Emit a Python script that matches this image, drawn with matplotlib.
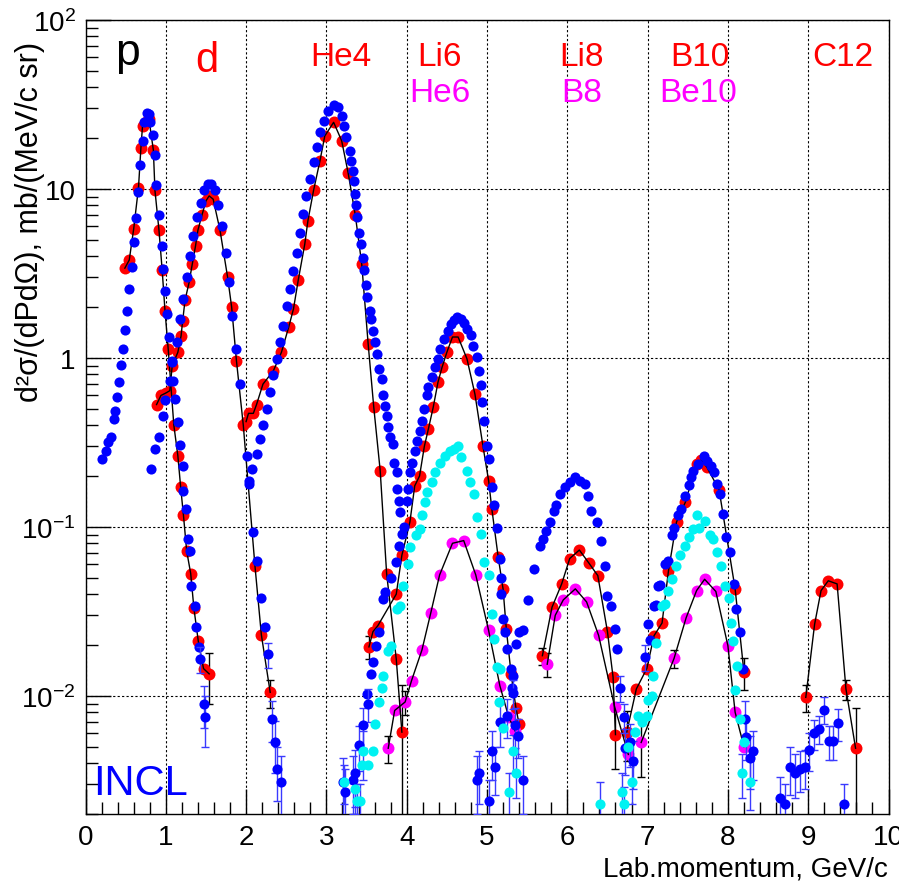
import numpy as np
import matplotlib.pyplot as plt
from matplotlib.ticker import MultipleLocator, FixedLocator, FixedFormatter, LogLocator, NullFormatter

plt.rcParams['font.family'] = ['Liberation Sans', 'DejaVu Sans']
plt.rcParams['mathtext.fontset'] = 'custom'
plt.rcParams['mathtext.rm'] = 'Liberation Sans'
plt.rcParams['mathtext.it'] = 'Liberation Sans:italic'
plt.rcParams['mathtext.bf'] = 'Liberation Sans:bold'

# ---- measured points (momentum GeV/c, cross section) ----
red_p = [(0.49, 3.4), (0.545, 3.8), (0.60, 5.8), (0.66, 10.2), (0.69, 17.5), (0.71, 23.5),
         (0.75, 25.0), (0.79, 26.0), (0.845, 17.0), (0.865, 9.8), (0.915, 5.7), (0.955, 3.3),
         (0.99, 1.9), (1.03, 1.13), (1.10, 0.40), (1.15, 0.264), (1.185, 0.172), (1.22, 0.117),
         (1.26, 0.072), (1.31, 0.053), (1.35, 0.033), (1.405, 0.021), (1.47, 0.0145), (1.54, 0.0135)]
red_d = [(0.885, 0.53), (0.94, 0.60), (1.00, 0.62), (1.05, 0.64), (1.08, 0.90), (1.15, 1.08),
         (1.19, 1.35), (1.21, 1.66), (1.24, 2.2), (1.29, 2.8), (1.33, 3.6), (1.37, 4.6),
         (1.40, 5.7), (1.45, 7.0), (1.50, 8.5), (1.54, 9.1), (1.59, 8.7), (1.675, 5.7),
         (1.77, 3.0), (1.82, 2.0), (1.88, 0.96), (1.965, 0.40), (2.11, 0.059), (2.19, 0.023),
         (2.30, 0.0105)]
red_he4 = [(2.00, 0.42), (2.03, 0.47), (2.09, 0.47), (2.13, 0.53), (2.21, 0.70), (2.34, 0.84),
           (2.44, 1.08), (2.53, 1.52), (2.59, 1.95), (2.65, 2.9), (2.73, 4.7), (2.77, 6.5),
           (2.84, 9.8), (2.92, 14.7), (2.98, 20.6), (3.09, 24.8), (3.19, 19.3), (3.27, 12.5),
           (3.36, 7.0), (3.44, 3.6), (3.52, 1.21), (3.59, 0.51), (3.67, 0.215), (3.75, 0.053),
           (3.87, 0.0165), (3.94, 0.0061)]
red_li6 = [(3.53, 0.0195), (3.58, 0.024), (3.64, 0.026), (3.87, 0.040), (3.94, 0.068),
           (4.04, 0.107), (4.10, 0.175), (4.16, 0.20), (4.22, 0.30), (4.27, 0.38), (4.33, 0.51),
           (4.39, 0.72), (4.44, 0.88), (4.50, 1.08), (4.57, 1.33), (4.64, 1.33), (4.75, 0.99),
           (4.85, 0.61), (4.95, 0.30), (5.02, 0.188), (5.06, 0.128), (5.14, 0.066), (5.20, 0.043),
           (5.24, 0.025), (5.30, 0.0135), (5.36, 0.0085), (5.40, 0.0068)]
red_li8 = [(5.69, 0.0173), (5.81, 0.0335), (5.93, 0.046), (6.03, 0.065), (6.15, 0.073),
           (6.27, 0.061), (6.38, 0.0515), (6.50, 0.024), (6.57, 0.0129), (6.60, 0.0059)]
red_b10 = [(6.74, 0.0061), (6.86, 0.011), (6.99, 0.0145), (7.08, 0.0227), (7.18, 0.027),
           (7.26, 0.055), (7.36, 0.107), (7.47, 0.14), (7.61, 0.236), (7.67, 0.25), (7.74, 0.225),
           (7.89, 0.166), (8.09, 0.043), (8.20, 0.0138)]
red_c12 = [(8.97, 0.0098), (9.08, 0.0266), (9.16, 0.042), (9.25, 0.048), (9.36, 0.046),
           (9.47, 0.011), (9.59, 0.0049)]
red_err = [(1.54, 0.0135, 0.0045), (2.30, 0.0105, 0.002), (3.53, 0.0195, 0.003),
           (3.94, 0.0061, 0.0055), (5.69, 0.0173, 0.002), (6.60, 0.0059, 0.0022),
           (6.74, 0.0061, 0.002), (8.20, 0.0138, 0.003), (8.97, 0.0098, 0.0018),
           (9.47, 0.011, 0.0015), (9.59, 0.0049, 0.0036)]

mag_he6 = [(3.77, 0.0049), (3.85, 0.0082), (3.98, 0.0092), (4.06, 0.0123), (4.19, 0.0187),
           (4.30, 0.031), (4.41, 0.052), (4.57, 0.080), (4.71, 0.083), (4.86, 0.052),
           (5.02, 0.0244), (5.16, 0.0115), (5.27, 0.0075), (5.35, 0.0062)]
mag_b8 = [(5.75, 0.0154), (5.85, 0.030), (5.95, 0.037), (6.10, 0.043), (6.24, 0.036),
          (6.39, 0.0228), (6.59, 0.0086), (6.76, 0.0045)]
mag_be10 = [(6.92, 0.0053), (7.33, 0.0167), (7.48, 0.029), (7.61, 0.042), (7.71, 0.049),
            (7.85, 0.0415), (8.00, 0.0198), (8.09, 0.0080), (8.20, 0.0050)]
mag_err = [(3.77, 0.0049, 0.0009), (3.98, 0.0092, 0.0015), (5.75, 0.0154, 0.0025),
           (6.92, 0.0053, 0.002), (7.33, 0.0167, 0.002)]

# ---- INCL ----
blue_p = [(0.21, 0.253), (0.25, 0.283), (0.28, 0.317), (0.32, 0.34), (0.35, 0.436), (0.37, 0.488),
          (0.39, 0.585), (0.42, 0.717), (0.44, 0.91), (0.47, 1.13), (0.49, 1.46), (0.52, 1.9),
          (0.54, 2.56), (0.575, 3.44), (0.60, 4.83), (0.625, 6.7), (0.65, 9.6), (0.68, 13.9),
          (0.71, 19.3), (0.73, 24.8), (0.76, 28.1), (0.79, 27.8), (0.80, 24.8), (0.84, 20.8),
          (0.86, 15.9), (0.88, 10.6), (0.915, 7.0), (0.95, 4.6), (0.965, 3.36), (0.99, 2.5),
          (1.01, 1.82), (1.04, 1.33), (1.08, 0.96), (1.09, 0.73), (1.12, 0.57), (1.15, 0.416),
          (1.18, 0.305), (1.21, 0.23), (1.22, 0.164), (1.25, 0.128), (1.28, 0.085), (1.30, 0.072),
          (1.32, 0.045), (1.36, 0.034), (1.38, 0.0254), (1.41, 0.0195)]
blue_d = [(0.82, 0.22), (0.865, 0.29), (0.915, 0.34), (0.96, 0.456), (0.99, 0.56), (1.05, 0.73),
          (1.08, 0.94), (1.135, 1.24), (1.18, 1.70), (1.22, 2.23), (1.26, 3.0), (1.30, 4.03),
          (1.34, 5.3), (1.385, 6.8), (1.44, 8.3), (1.48, 9.8), (1.52, 10.7), (1.56, 10.7),
          (1.61, 9.8), (1.65, 8.0), (1.70, 6.07), (1.75, 4.2), (1.79, 2.83), (1.83, 1.78),
          (1.88, 1.13), (1.92, 0.70), (2.01, 0.264), (2.04, 0.18), (2.09, 0.093), (2.14, 0.063),
          (2.19, 0.038), (2.23, 0.0254)]
blue_he4 = [(2.03, 0.188), (2.07, 0.22), (2.13, 0.27), (2.17, 0.33), (2.21, 0.40), (2.26, 0.50),
            (2.30, 0.63), (2.34, 0.79), (2.38, 0.99), (2.42, 1.24), (2.46, 1.55), (2.51, 2.04),
            (2.55, 2.56), (2.59, 3.28), (2.63, 4.2), (2.67, 5.5), (2.71, 7.1), (2.75, 9.1),
            (2.80, 11.4), (2.84, 14.4), (2.88, 17.7), (2.92, 21.7), (2.97, 25.4), (3.02, 29.1),
            (3.09, 31.4), (3.15, 30.5), (3.19, 27.1), (3.22, 23.6), (3.25, 20.2), (3.29, 16.8),
            (3.31, 14.7), (3.33, 12.8), (3.34, 11.2), (3.36, 9.3), (3.37, 8.0), (3.385, 6.8),
            (3.41, 5.5), (3.43, 4.7), (3.45, 3.9), (3.47, 3.3), (3.49, 2.7), (3.51, 2.3),
            (3.54, 1.9), (3.56, 1.7), (3.58, 1.45), (3.60, 1.24), (3.63, 1.06), (3.66, 0.86),
            (3.69, 0.75), (3.71, 0.60), (3.73, 0.52), (3.75, 0.456), (3.77, 0.39), (3.79, 0.34),
            (3.83, 0.31), (3.84, 0.24), (3.875, 0.21), (3.88, 0.168), (3.91, 0.143), (3.92, 0.122)]
blue_li6 = [(3.50, 0.0103), (3.56, 0.0135), (3.58, 0.0159), (3.62, 0.0198), (3.65, 0.0238),
            (3.70, 0.0375), (3.73, 0.041), (3.81, 0.050), (3.87, 0.062), (3.90, 0.077),
            (3.94, 0.091), (3.97, 0.10), (4.00, 0.143), (4.02, 0.168), (4.04, 0.21), (4.07, 0.24),
            (4.10, 0.283), (4.13, 0.324), (4.17, 0.37), (4.19, 0.425), (4.22, 0.50), (4.25, 0.60),
            (4.27, 0.67), (4.31, 0.77), (4.35, 0.88), (4.39, 0.99), (4.42, 1.13), (4.46, 1.30),
            (4.51, 1.45), (4.55, 1.59), (4.59, 1.68), (4.63, 1.74), (4.67, 1.70), (4.71, 1.61),
            (4.75, 1.48), (4.80, 1.36), (4.83, 1.18), (4.87, 1.01), (4.90, 0.84), (4.92, 0.69),
            (4.94, 0.546), (4.96, 0.425), (5.00, 0.30), (5.03, 0.253), (5.06, 0.172), (5.09, 0.134),
            (5.12, 0.099), (5.16, 0.065), (5.18, 0.050), (5.18, 0.040), (5.20, 0.0285),
            (5.22, 0.0238), (5.25, 0.0189), (5.30, 0.0145), (5.31, 0.0112)]
blue_li8 = [(5.33, 0.0132), (5.36, 0.0204), (5.40, 0.0238), (5.45, 0.0244), (5.51, 0.037),
            (5.58, 0.056), (5.66, 0.077), (5.70, 0.085), (5.74, 0.095), (5.79, 0.107),
            (5.83, 0.125), (5.86, 0.134), (5.91, 0.157), (5.97, 0.172), (6.03, 0.184),
            (6.10, 0.197), (6.16, 0.188), (6.22, 0.18), (6.26, 0.153), (6.30, 0.125),
            (6.37, 0.107), (6.42, 0.083), (6.47, 0.059), (6.50, 0.039), (6.55, 0.034),
            (6.59, 0.0249), (6.62, 0.0189)]
blue_b10 = [(7.01, 0.0266), (7.03, 0.0213), (7.08, 0.034), (7.10, 0.0345), (7.13, 0.045),
            (7.15, 0.0455), (7.22, 0.060), (7.26, 0.063), (7.30, 0.089), (7.33, 0.099),
            (7.38, 0.117), (7.42, 0.128), (7.47, 0.153), (7.51, 0.176), (7.54, 0.197),
            (7.57, 0.215), (7.63, 0.236), (7.70, 0.264), (7.74, 0.247), (7.79, 0.23),
            (7.83, 0.21), (7.87, 0.18), (7.90, 0.157), (7.94, 0.12), (7.98, 0.087),
            (8.03, 0.071), (8.07, 0.046), (8.10, 0.0326), (8.15, 0.024), (8.19, 0.0145)]
blue_err = [(1.43, 0.0166, 0.003), (1.47, 0.009, 0.0025), (1.49, 0.0075, 0.0025),
            (2.27, 0.0177, 0.003), (2.32, 0.0073, 0.002), (2.36, 0.0053, 0.0018),
            (2.39, 0.0037, 0.0013), (2.43, 0.0031, 0.0013),
            (3.21, 0.0031, 0.0012), (3.23, 0.0027, 0.001), (3.33, 0.0032, 0.0012),
            (3.36, 0.0035, 0.0013), (3.41, 0.0051, 0.0015), (3.46, 0.0067, 0.0018),
            (3.52, 0.0090, 0.002),
            (4.87, 0.0032, 0.0012), (4.90, 0.0035, 0.0012), (5.03, 0.0024, 0.0008),
            (5.06, 0.0047, 0.0015), (5.10, 0.0038, 0.0012), (5.16, 0.0070, 0.002),
            (5.25, 0.0076, 0.002), (5.33, 0.0104, 0.002), (5.35, 0.0067, 0.0018),
            (5.38, 0.0058, 0.0015), (5.45, 0.0032, 0.0012),
            (6.66, 0.0112, 0.002), (6.70, 0.0075, 0.0015), (6.72, 0.0049, 0.0015),
            (6.78, 0.0053, 0.0015), (6.82, 0.0041, 0.0013), (6.97, 0.017, 0.003),
            (8.21, 0.0073, 0.002), (8.23, 0.0057, 0.0015), (8.28, 0.0043, 0.0015),
            (8.31, 0.0047, 0.0015)]
blue_c12 = [(8.65, 0.0025, 0.0008), (8.71, 0.0023, 0.0007), (8.77, 0.0038, 0.0012),
            (8.84, 0.0035, 0.001), (8.90, 0.0037, 0.001), (8.96, 0.0038, 0.001),
            (9.01, 0.0048, 0.0012), (9.07, 0.0060, 0.0012), (9.13, 0.0064, 0.0012),
            (9.20, 0.0083, 0.0015), (9.26, 0.0054, 0.0012), (9.31, 0.0054, 0.0012),
            (9.37, 0.0069, 0.0015), (9.44, 0.0023, 0.0007)]

cyan_he6 = [(3.44, 0.0039), (3.52, 0.0039), (3.58, 0.0047), (3.61, 0.0068), (3.65, 0.0092),
            (3.69, 0.0112), (3.71, 0.0132), (3.77, 0.0185), (3.81, 0.0198), (3.88, 0.0326),
            (3.92, 0.034), (3.96, 0.045), (4.01, 0.060), (4.04, 0.076), (4.12, 0.089),
            (4.17, 0.097), (4.19, 0.117), (4.23, 0.140), (4.25, 0.160), (4.31, 0.184),
            (4.35, 0.21), (4.41, 0.24), (4.48, 0.264), (4.54, 0.283), (4.59, 0.29), (4.64, 0.30),
            (4.68, 0.258), (4.75, 0.215), (4.79, 0.184), (4.84, 0.157), (4.87, 0.114),
            (4.92, 0.091), (4.96, 0.062), (5.02, 0.052), (5.06, 0.0305), (5.09, 0.0217),
            (5.12, 0.0148), (5.16, 0.0145), (5.15, 0.0092), (5.20, 0.0065)]
cyan_b10 = [(6.75, 0.0050), (6.84, 0.0061), (6.88, 0.0076), (6.93, 0.0070), (6.99, 0.0076),
            (7.01, 0.0094), (7.05, 0.0100), (7.07, 0.0132), (7.11, 0.0207), (7.18, 0.034),
            (7.22, 0.035), (7.26, 0.042), (7.30, 0.049), (7.35, 0.059), (7.40, 0.068),
            (7.47, 0.077), (7.52, 0.087), (7.57, 0.097), (7.61, 0.117), (7.64, 0.099),
            (7.71, 0.109), (7.78, 0.089), (7.82, 0.085), (7.87, 0.071), (7.91, 0.059),
            (7.96, 0.045), (8.01, 0.038), (8.04, 0.027), (8.06, 0.021), (8.11, 0.0151),
            (8.09, 0.0108), (8.15, 0.0073), (8.20, 0.0053)]
cyan_err = [(3.22, 0.0031, 0.0008), (3.36, 0.0028, 0.0008), (3.38, 0.0024, 0.0006),
            (3.42, 0.0024, 0.0006), (3.46, 0.0047, 0.0015), (5.27, 0.0027, 0.0008),
            (5.33, 0.0047, 0.0012), (5.36, 0.0035, 0.001), (6.41, 0.0023, 0.0008),
            (6.68, 0.0027, 0.0008), (6.71, 0.0023, 0.0006), (6.80, 0.0031, 0.0008),
            (8.18, 0.0035, 0.001), (8.27, 0.0031, 0.001)]

labels = [('p', 0.52, 55, 'black', 32), ('d', 1.51, 50, 'red', 30),
          ('He4', 3.18, 54, 'red', 24), ('Li6', 4.41, 54, 'red', 24), ('He6', 4.41, 33, 'magenta', 24),
          ('Li8', 6.18, 54, 'red', 24), ('B8', 6.18, 33, 'magenta', 24),
          ('B10', 7.65, 54, 'red', 24), ('Be10', 7.63, 33, 'magenta', 24),
          ('C12', 9.43, 54, 'red', 24)]

RED, BLUE, MAG, CYAN = '#ff0000', '#0000ff', '#ff00ff', '#00f2f2'
EBLUE = '#3a3aff'


def xy(pts):
    a = np.array(pts, dtype=float)
    return a[:, 0], a[:, 1]


def xyd(pts):
    a = np.array(pts, dtype=float)
    return a[:, 0], a[:, 1], a[:, 2]


fig = plt.figure(figsize=(8.99, 8.87), dpi=100)
ax = fig.add_axes([85.5 / 899, 72 / 887, 803 / 899, 794 / 887])
ax.set_yscale('log')
ax.set_xlim(0, 10)
ax.set_ylim(0.002, 100)

# error bars first
for pts, col in ((red_err, 'black'), (mag_err, 'black')):
    x, y, d = xyd(pts)
    ax.errorbar(x, y, yerr=d, fmt='none', ecolor=col, elinewidth=1, capsize=3, zorder=2)

for grp in (red_p, red_d, red_he4, red_li6, red_li8, red_b10, red_c12):
    x, y = xy(grp)
    ax.plot(x, y, 'o', color=RED, ms=8.6, mec='none', zorder=3)
    ax.plot(x, y, '-', color='black', lw=1, zorder=3.5)

for grp in (mag_he6, mag_b8, mag_be10):
    x, y = xy(grp)
    ax.plot(x, y, 'o', color=MAG, ms=8.6, mec='none', zorder=3.2)
    ax.plot(x, y, '-', color='black', lw=1, zorder=3.5)

for grp in (blue_p, blue_d, blue_he4, blue_li6, blue_li8, blue_b10):
    x, y = xy(grp)
    ax.plot(x, y, 'o', color=BLUE, ms=7.3, mec='none', zorder=5)

for pts, col in ((blue_err, BLUE), (blue_c12, BLUE), (cyan_err, CYAN)):
    x, y, d = xyd(pts)
    ax.errorbar(x, y, yerr=d, fmt='o', color=col, ms=7.3, mec='none', ecolor=EBLUE,
                elinewidth=1, capsize=3, zorder=5)

for grp in (cyan_he6, cyan_b10):
    x, y = xy(grp)
    ax.plot(x, y, 'o', color=CYAN, ms=7.3, mec='none', zorder=6)

for txt, lx, ly, col, fs in labels:
    ax.text(lx, ly, txt, color=col, fontsize=fs, ha='center', va='baseline', zorder=7)
ax.text(0.094, 0.00263, 'INCL', color=BLUE, fontsize=30, ha='left', va='baseline', zorder=7)

ax.xaxis.set_major_locator(MultipleLocator(1))
ax.xaxis.set_minor_locator(MultipleLocator(0.2))
ax.yaxis.set_major_locator(FixedLocator([0.01, 0.1, 1, 10, 100]))
ax.yaxis.set_major_formatter(FixedFormatter([r'$\mathdefault{10^{-2}}$', r'$\mathdefault{10^{-1}}$',
                                             '1', '10', r'$\mathdefault{10^{2}}$']))
ax.yaxis.set_minor_locator(LogLocator(base=10, subs=np.arange(2, 10), numticks=20))
ax.yaxis.set_minor_formatter(NullFormatter())
ax.tick_params(which='both', direction='in', top=False, right=False, labelsize=20, width=1)
ax.tick_params(which='major', length=18)
ax.tick_params(which='minor', length=8.5)
ax.tick_params(axis='x', pad=7)
ax.tick_params(axis='y', pad=7)
ax.grid(True, which='major', color='black', linestyle=(0, (2, 2)), linewidth=0.8)
for s in ax.spines.values():
    s.set_linewidth(1)

fig.text(888 / 899, 10 / 887, 'Lab.momentum, GeV/c', fontsize=20, ha='right', va='baseline')
fig.text(30 / 899, 845 / 887, 'd²σ/(dPdΩ), mb/(MeV/c sr)', fontsize=22, rotation=90,
         ha='center', va='top')

fig.savefig('out.png', dpi=100)
